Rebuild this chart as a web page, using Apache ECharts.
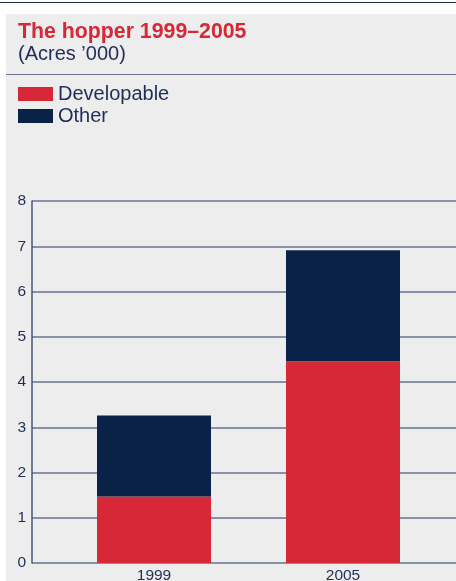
<!DOCTYPE html>
<html>
<head>
<meta charset="utf-8">
<script src="https://cdn.jsdelivr.net/npm/echarts@6/dist/echarts.min.js"></script>
<style>
  html, body { margin: 0; padding: 0; background: #ffffff; }
  #chart { width: 456px; height: 581px; }
</style>
</head>
<body>
<div id="chart"></div>
<script>
// Land hopper, thousands of acres
const years = ['1999', '2005'];
const developable = [1.47, 4.46];
const other = [1.79, 2.45];
const yTicks = [0, 8, 1]; // min, max, interval

const RED = '#d62836';
const NAVY = '#0a2248';
const TEXT = '#1f2d5a';
const GRID_LINE = '#66728f';
const FONT = 'Liberation Sans, Arial, sans-serif';

const chart = echarts.init(document.getElementById('chart'));

chart.setOption({
  animation: false,
  backgroundColor: '#ffffff',
  graphic: [
    { type: 'line', shape: { x1: 0, y1: 2.5, x2: 456, y2: 2.5 }, style: { stroke: '#1c2a55', lineWidth: 1.2 }, z: 0 },
    { type: 'rect', shape: { x: 6, y: 14, width: 450, height: 567 }, style: { fill: '#ededed' }, z: -10 },
    { type: 'line', shape: { x1: 6, y1: 74.5, x2: 456, y2: 74.5 }, style: { stroke: '#6a7390', lineWidth: 1 }, z: 0 }
  ],
  title: {
    text: 'The hopper 1999–2005',
    subtext: "(Acres ’000)",
    left: 13,
    top: 17,
    itemGap: 1,
    textStyle: { color: RED, fontFamily: FONT, fontWeight: 'bold', fontSize: 21.3 },
    subtextStyle: { color: TEXT, fontFamily: FONT, fontSize: 20 }
  },
  legend: {
    orient: 'vertical',
    left: 13,
    top: 79,
    itemWidth: 35,
    itemHeight: 14,
    itemGap: 2,
    icon: 'rect',
    selectedMode: false,
    textStyle: { color: TEXT, fontFamily: FONT, fontSize: 20 },
    data: ['Developable', 'Other']
  },
  grid: [
    { left: 32, right: 0, top: 201, bottom: 18, outerBoundsMode: 'none' },
    { left: 59.5, width: 378, top: 201, bottom: 18, outerBoundsMode: 'none' }
  ],
  xAxis: [
    { type: 'category', gridIndex: 0, data: years, show: false },
    {
      type: 'category', gridIndex: 1, data: years,
      axisLine: { show: false }, axisTick: { show: false },
      axisLabel: { color: TEXT, fontFamily: FONT, fontSize: 15.5, margin: 5 }
    }
  ],
  yAxis: [
    {
      type: 'value', gridIndex: 0, min: yTicks[0], max: yTicks[1], interval: yTicks[2],
      axisLine: { show: true, lineStyle: { color: '#4a5678', width: 1.5 } },
      axisTick: { show: false },
      splitLine: { show: true, lineStyle: { color: GRID_LINE, width: 1.5 } },
      axisLabel: { color: TEXT, fontFamily: FONT, fontSize: 15.5, margin: 6 }
    },
    { type: 'value', gridIndex: 1, min: yTicks[0], max: yTicks[1], interval: yTicks[2], show: false, splitLine: { show: false } }
  ],
  series: [
    {
      name: 'Developable', type: 'bar', stack: 'total', xAxisIndex: 1, yAxisIndex: 1,
      barWidth: 114, itemStyle: { color: RED }, data: developable, z: 5
    },
    {
      name: 'Other', type: 'bar', stack: 'total', xAxisIndex: 1, yAxisIndex: 1,
      barWidth: 114, itemStyle: { color: NAVY }, data: other, z: 5
    }
  ]
});
</script>
</body>
</html>
